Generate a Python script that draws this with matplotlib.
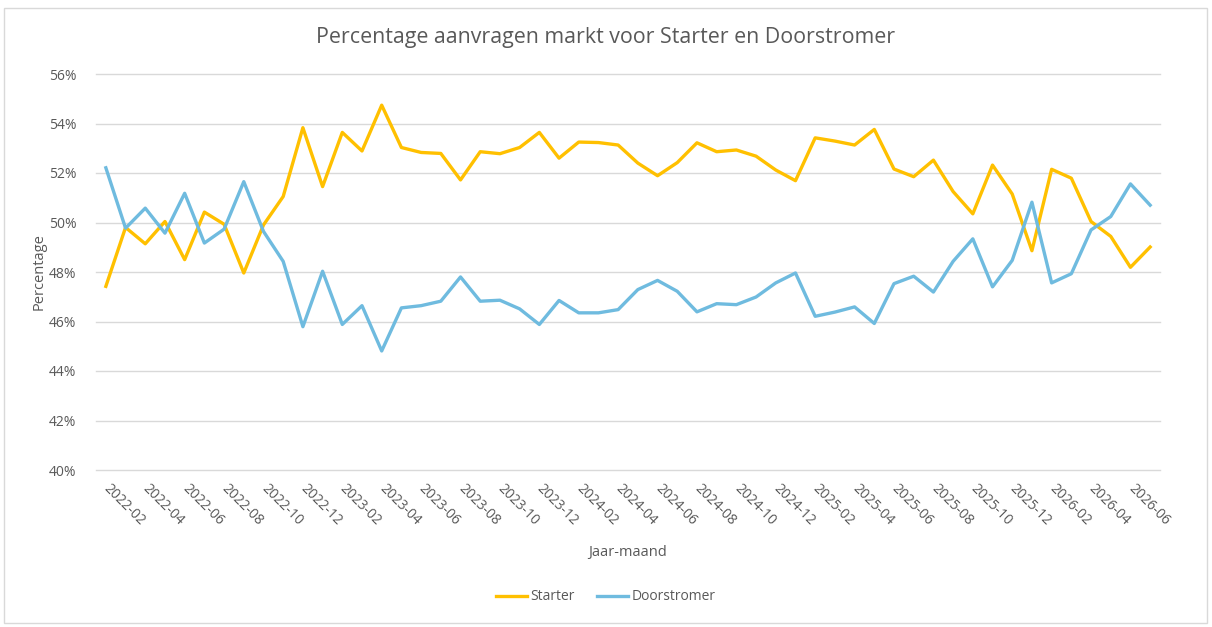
import numpy as np
import pandas as pd
import matplotlib
matplotlib.use('Agg')
import matplotlib.pyplot as plt
from matplotlib.ticker import PercentFormatter
from matplotlib.patches import Rectangle

plt.rcParams['font.family'] = ['Open Sans', 'DejaVu Sans']

# maanden 2022-02 t/m 2026-07
months = [str(p) for p in pd.period_range('2022-02', '2026-07', freq='M')]

starter = [47.42, 49.80, 49.14, 50.04, 48.50, 50.42, 49.93, 47.96, 49.90, 51.05,
           53.83, 51.45, 53.64, 52.89, 54.74, 53.03, 52.83, 52.79, 51.72, 52.86,
           52.78, 53.03, 53.64, 52.60, 53.25, 53.23, 53.13, 52.40, 51.89, 52.42,
           53.22, 52.86, 52.93, 52.68, 52.12, 51.69, 53.42, 53.29, 53.13, 53.76,
           52.16, 51.85, 52.52, 51.25, 50.35, 52.32, 51.15, 48.86, 52.15, 51.79,
           50.04, 49.44, 48.19, 49.01]

doorstromer = [52.21, 49.77, 50.58, 49.57, 51.18, 49.17, 49.73, 51.65, 49.64, 48.43,
               45.79, 48.03, 45.88, 46.64, 44.81, 46.55, 46.64, 46.82, 47.80, 46.82,
               46.86, 46.51, 45.88, 46.85, 46.35, 46.35, 46.48, 47.29, 47.66, 47.22,
               46.39, 46.72, 46.68, 46.99, 47.56, 47.96, 46.21, 46.38, 46.59, 45.92,
               47.53, 47.83, 47.19, 48.43, 49.34, 47.40, 48.47, 50.82, 47.56, 47.93,
               49.70, 50.24, 51.56, 50.70]

text_col = '#595959'
grid_col = '#d9d9d9'

fig = plt.figure(figsize=(12.12, 6.27), dpi=100)
ax = fig.add_axes([96/1212, 1 - 470/627, (1160 - 96)/1212, (470 - 74)/627])

x = np.arange(len(months))
ax.plot(x, starter, color='#FFC000', lw=2.4, label='Starter', solid_joinstyle='round')
ax.plot(x, doorstromer, color='#6FBBDF', lw=2.4, label='Doorstromer', solid_joinstyle='round')

ax.set_xlim(-0.5, len(months) - 0.5)
ax.set_ylim(40, 56)
ax.set_yticks(np.arange(40, 57, 2))
ax.yaxis.set_major_formatter(PercentFormatter(decimals=0))
ax.grid(axis='y', color=grid_col, lw=1)
ax.set_axisbelow(True)
for gl in ax.get_ygridlines():
    gl.set_clip_on(False)
for s in ax.spines.values():
    s.set_visible(False)

ax.set_xticks(x[::2])
ax.set_xticklabels(months[::2], rotation=-45, ha='left', va='center',
                   rotation_mode='anchor')
ax.tick_params(axis='both', length=0, colors=text_col, labelsize=10)
ax.tick_params(axis='x', pad=12)
ax.tick_params(axis='y', pad=14)

ax.set_xlabel('Jaar-maand', color=text_col, fontsize=10.5, labelpad=12)
ax.set_ylabel('Percentage', color=text_col, fontsize=10.5, labelpad=2)

fig.text(0.5, 1 - 38/627, 'Percentage aanvragen markt voor Starter en Doorstromer',
         ha='center', va='center', color=text_col, fontsize=15.4)

fig.legend(loc='center', bbox_to_anchor=(0.5, 1 - 597/627), ncol=2, frameon=False,
           fontsize=10, labelcolor=text_col, handlelength=2.2, handletextpad=0.3,
           columnspacing=1.6)

fig.patches.append(Rectangle((4/1212, 1 - 623/627), 1203/1212, 615/627,
                             transform=fig.transFigure, fill=False,
                             edgecolor=grid_col, lw=1))

fig.savefig('out.png', dpi=100, facecolor='white')
